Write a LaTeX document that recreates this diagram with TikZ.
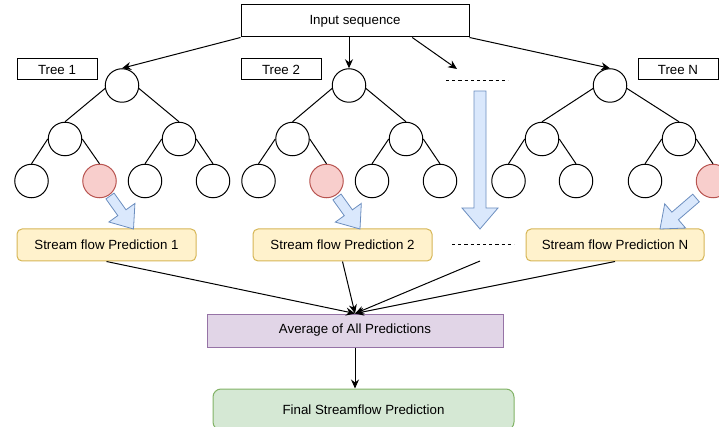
\documentclass[tikz,border=0pt]{standalone}
\usepackage{fontspec}
\setmainfont{Liberation Sans}
\usetikzlibrary{calc,arrows.meta}
\definecolor{bluefill}{HTML}{DAE8FC}
\definecolor{blueline}{HTML}{6C8EBF}
\definecolor{redfill}{HTML}{F8CECC}
\definecolor{redline}{HTML}{B85450}
\definecolor{yellowfill}{HTML}{FFF2CC}
\definecolor{yellowline}{HTML}{D6B656}
\definecolor{purplefill}{HTML}{E1D5E7}
\definecolor{purpleline}{HTML}{9673A6}
\definecolor{greenfill}{HTML}{D5E8D4}
\definecolor{greenline}{HTML}{82B366}

% block arrow from tail #1 to tip #2; #3 half shaft width, #4 half head width, #5 head length
\newcommand\flowarrow[5]{%
  \coordinate (arrowbase) at ($(#2)!#5!(#1)$);
  \path[blockarrow]
    ($(#1)!#3!90:(#2)$) --
    ($(arrowbase)!#3!-90:(#1)$) --
    ($(arrowbase)!#4!-90:(#1)$) --
    (#2) --
    ($(arrowbase)!#4!90:(#1)$) --
    ($(arrowbase)!#3!90:(#1)$) --
    ($(#1)!#3!-90:(#2)$) -- cycle;
}

\begin{document}
\begin{tikzpicture}[x=1pt,y=-1pt,line width=1pt,
  txt/.style={font=\fontsize{13.3}{16}\selectfont},
  plainbox/.style={draw,fill=white,inner sep=0pt,txt},
  tnode/.style={circle,draw,fill=white,minimum size=33.5pt,inner sep=0pt},
  hitnode/.style={tnode,fill=redfill,draw=redline},
  predbox/.style={draw=yellowline,fill=yellowfill,rounded corners=5pt,inner sep=0pt,
    minimum width=179pt,minimum height=32pt,txt},
  link/.style={-{Stealth[length=9pt,width=8pt]}},
  blockarrow/.style={draw=blueline,fill=bluefill,line width=0.8pt,line join=miter},
  dots/.style={dash pattern=on 3.2pt off 3pt,line width=0.8pt}]
\useasboundingbox (0,0) rectangle (719,427);
\clip (0,0) rectangle (719,427);

% input and tree captions
\node[plainbox,minimum width=228pt,minimum height=32pt] (input) at (355,21) {Input sequence};
\node[plainbox,minimum width=80pt,minimum height=21pt] (cap1) at (57,69.5) {Tree 1};
\node[plainbox,minimum width=80pt,minimum height=21pt] (cap2) at (281,69.5) {Tree 2};
\node[plainbox,minimum width=80pt,minimum height=21pt] (capN) at (678,69.5) {Tree N};

% tree 1
\node[tnode] (r1) at (122,85.5) {};
\node[tnode] (a1) at (65,139) {};
\node[tnode] (b1) at (179,139) {};
\node[tnode] (a1l) at (31.5,181) {};
\node[hitnode] (a1r) at (99.5,181) {};
\node[tnode] (b1l) at (145,181) {};
\node[tnode] (b1r) at (213,181) {};
% tree 2
\node[tnode] (r2) at (349,85.5) {};
\node[tnode] (a2) at (292.5,139) {};
\node[tnode] (b2) at (406,139) {};
\node[tnode] (a2l) at (258.5,181) {};
\node[hitnode] (a2r) at (326.5,181) {};
\node[tnode] (b2l) at (372,181) {};
\node[tnode] (b2r) at (440,181) {};
% tree N
\node[tnode] (rN) at (610,85.5) {};
\node[tnode] (aN) at (542,139) {};
\node[tnode] (bN) at (679,139) {};
\node[tnode] (aNl) at (508.5,181) {};
\node[tnode] (aNr) at (576,181) {};
\node[tnode] (bNl) at (645,181) {};
\node[hitnode] (bNr) at (713,181) {};

% branches
\foreach \t in {1,2,N}{
  \draw (r\t.190) -- (a\t.north);
  \draw (r\t.-10) -- (b\t.north);
  \draw (a\t.west) -- (a\t l.north);
  \draw (a\t.east) -- (a\t r.north);
  \draw (b\t.west) -- (b\t l.north);
  \draw (b\t.east) -- (b\t r.north);
}

% ellipsis between trees
\coordinate (gapL) at (446,80);
\coordinate (gapR) at (508,80);
\draw[dots] (gapL) -- (gapR);
\coordinate (gapIn) at (457,69);

% input connectors
\draw[link] (input.south west) -- (r1.north);
\draw[link] (input.south -| r2) -- (r2.north);
\draw[link] ($(input.south west)!0.75!(input.south east)$) -- (gapIn);
\draw[link] (input.south east) -- (rN.north);

% prediction boxes
\node[predbox] (p1) at (106.5,245) {Stream flow Prediction 1};
\node[predbox] (p2) at (342.5,245) {Stream flow Prediction 2};
\node[predbox,minimum width=178pt] (pN) at (615,245) {Stream flow Prediction N};
\coordinate (midL) at (452,244);
\coordinate (midR) at (514,244);
\draw[dots] (midL) -- (midR);
\coordinate (midOut) at (480,261);

% block arrows from leaves to predictions
\coordinate (t1) at (110,196);  \coordinate (h1) at (133.5,229);
\coordinate (t2) at (337,197);  \coordinate (h2) at (360,229);
\coordinate (tN) at (696,198);  \coordinate (hN) at (660,229);
\coordinate (tM) at (480,91);   \coordinate (hM) at (480,229);
\flowarrow{t1}{h1}{5pt}{16pt}{20pt}
\flowarrow{t2}{h2}{5pt}{16pt}{20pt}
\flowarrow{tN}{hN}{5pt}{16pt}{20pt}
\flowarrow{tM}{hM}{6pt}{18pt}{21pt}

% aggregation
\node[draw=purpleline,fill=purplefill,minimum width=296pt,minimum height=33pt,inner sep=0pt,txt]
  (avg) at (355,330.5) {Average of All Predictions};
\draw[link] (p1.south) -- (avg.north);
\draw[link] (p2.south) -- (avg.north);
\draw[link] (midOut) -- (avg.north);
\draw[link] (pN.south) -- (avg.north);

\node[draw=greenline,fill=greenfill,rounded corners=8pt,minimum width=301pt,minimum height=41pt,
  inner sep=0pt,txt] (final) at (363.5,409.5) {Final Streamflow Prediction};
\draw[link] (avg.south) -- (final.north -| avg.south);
\end{tikzpicture}
\end{document}
